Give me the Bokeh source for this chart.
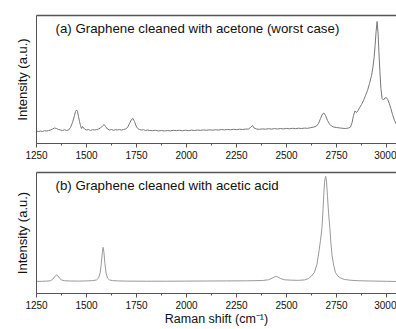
from bokeh.plotting import figure
from bokeh.layouts import column
from bokeh.models import Range1d, LinearAxis, SingleIntervalTicker, FixedTicker, Label
from bokeh.embed import file_html
from bokeh.resources import INLINE

# ---- data ----
x_a = [1250, 1260, 1270, 1280, 1290, 1300, 1310, 1320, 1330, 1340, 1350, 1360, 1370, 1380, 1390,
       1400, 1410, 1420, 1430, 1440, 1445, 1450, 1455, 1460, 1465, 1470, 1475, 1480, 1490,
       1500, 1510, 1520, 1530, 1540, 1550, 1560, 1570, 1580, 1588, 1595, 1605, 1615, 1625,
       1635, 1645, 1655, 1665, 1675, 1685, 1695, 1705, 1715, 1725, 1732, 1740, 1748, 1756,
       1765, 1775, 1785, 1795, 1805, 1815, 1830, 1845, 1860, 1875, 1890, 1905, 1920, 1935,
       1950, 1965, 1980, 1995, 2010, 2025, 2040, 2055, 2070, 2085, 2100, 2115, 2130, 2145,
       2160, 2175, 2190, 2205, 2220, 2235, 2250, 2265, 2280, 2295, 2310, 2320, 2330, 2338,
       2350, 2365, 2380, 2395, 2410, 2425, 2440, 2455, 2470, 2485, 2500, 2515, 2530, 2545,
       2560, 2575, 2590, 2605, 2620, 2635, 2650, 2660, 2670, 2680, 2687, 2695, 2705, 2715,
       2725, 2735, 2750, 2765, 2780, 2795, 2810, 2820, 2828, 2835, 2842, 2850, 2858, 2866,
       2875, 2885, 2895, 2905, 2915, 2925, 2932, 2938, 2943, 2948, 2953, 2958, 2962, 2967,
       2972, 2978, 2985, 2992, 2999, 3006, 3014, 3022, 3030, 3040, 3050]
y_a = [12.5, 12.0, 12.5, 12.0, 12.8, 12.5, 13.0, 13.5, 14.5, 15.5, 15.0, 14.0, 13.5, 13.0, 13.8,
       13.0, 13.5, 16.0, 21.0, 28.0, 32.0, 33.5, 32.0, 27.0, 22.0, 18.0, 15.0, 17.0, 14.5,
       13.5, 14.0, 13.0, 13.8, 13.5, 14.0, 14.5, 15.5, 17.5, 19.0, 17.0, 14.5, 13.5, 14.0,
       13.2, 13.8, 13.5, 14.0, 13.5, 14.0, 14.5, 16.0, 20.0, 24.0, 25.0, 22.0, 17.5, 15.0,
       14.0, 13.5, 13.8, 13.0, 13.5, 13.0, 12.8, 13.2, 12.6, 13.0, 12.5, 13.0, 12.6, 13.2,
       12.8, 13.2, 12.7, 13.3, 12.8, 13.4, 13.0, 13.5, 13.1, 13.6, 13.2, 13.7, 13.3, 13.8,
       13.4, 14.0, 13.6, 14.1, 13.7, 14.2, 13.8, 14.3, 14.0, 14.4, 14.5, 16.0, 18.0, 15.5,
       14.5, 14.2, 14.6, 14.3, 14.8, 14.4, 14.9, 14.5, 15.0, 14.6, 15.1, 14.7, 15.2, 14.8,
       15.3, 15.0, 15.4, 15.2, 15.8, 16.3, 17.5, 20.0, 25.0, 29.5, 30.5, 28.0, 23.0, 19.5,
       17.5, 16.5, 16.0, 15.6, 15.2, 15.0, 15.5, 16.5, 21.0, 28.0, 32.5, 31.0, 33.0, 36.0,
       39.0, 43.0, 48.0, 53.0, 60.0, 68.0, 76.0, 86.0, 98.0, 112.0, 122.0, 110.0, 92.0, 72.0,
       55.0, 45.0, 43.5, 45.5, 46.0, 44.0, 40.0, 35.0, 29.0, 23.0, 19.0]

x_b = [1250, 1280, 1300, 1320, 1330, 1340, 1350, 1358, 1366, 1375, 1390, 1420, 1460, 1500,
       1530, 1550, 1560, 1568, 1574, 1579, 1583, 1587, 1592, 1598, 1605, 1615, 1630, 1660,
       1700, 1800, 1900, 2000, 2100, 2200, 2300, 2380, 2410, 2430, 2445, 2455, 2470, 2490,
       2520, 2560, 2590, 2610, 2625, 2640, 2652, 2662, 2670, 2677, 2683, 2688, 2692, 2696,
       2700, 2705, 2710, 2717, 2722, 2728, 2736, 2745, 2757, 2770, 2790, 2820, 2860, 2920,
       3000, 3050]
y_b = [12.5, 12.6, 12.8, 13.2, 14.5, 17.0, 19.3, 18.0, 15.5, 14.0, 13.2, 12.9, 12.8, 13.0,
       13.3, 14.0, 16.0, 21.0, 31.0, 42.0, 47.7, 43.0, 31.0, 21.0, 16.0, 14.0, 13.3, 13.0,
       12.8, 12.7, 12.7, 12.8, 12.9, 13.0, 13.1, 13.4, 14.2, 16.0, 17.7, 17.3, 15.5, 14.2,
       13.8, 13.6, 14.0, 15.5, 18.0, 22.0, 30.0, 43.0, 55.0, 67.0, 88.0, 108.0, 118.0, 121.0,
       116.0, 100.0, 84.0, 67.0, 52.0, 39.0, 29.0, 21.5, 18.0, 16.0, 14.5, 13.7, 13.2, 12.9,
       12.6, 12.4]

x_ticks_interval = 250
title_a = "(a) Graphene cleaned with acetone (worst case)"
title_b = "(b) Graphene cleaned with acetic acid"
y_label = "Intensity (a.u.)"
x_label = "Raman shift (cm\u207b\u00b9)"

FONT = "Liberation Sans"
FRAME = "#555555"


def make_panel(xs, ys, title, ymax, height, top, bottom, color, show_xlabel):
    p = figure(width=396, height=height, output_backend="svg", toolbar_location=None,
               x_range=Range1d(1250, 3050), y_range=Range1d(0, ymax),
               x_axis_location=None, y_axis_location=None,
               min_border_left=36, min_border_right=0,
               min_border_top=top, min_border_bottom=bottom)
    p.outline_line_color = None
    p.grid.visible = False
    p.background_fill_color = "white"
    p.border_fill_color = "white"

    xa = LinearAxis(ticker=SingleIntervalTicker(interval=x_ticks_interval, num_minor_ticks=2))
    xa.axis_line_color = FRAME
    xa.major_tick_line_color = FRAME
    xa.minor_tick_line_color = FRAME
    xa.major_tick_in = 0
    xa.major_tick_out = 4
    xa.minor_tick_in = 0
    xa.minor_tick_out = 2
    xa.major_label_standoff = 3
    xa.major_label_text_font = FONT
    xa.major_label_text_font_size = "10px"
    xa.major_label_text_color = "#111111"
    if show_xlabel:
        xa.axis_label = x_label
        xa.axis_label_text_font = FONT
        xa.axis_label_text_font_size = "12.5px"
        xa.axis_label_text_font_style = "normal"
        xa.axis_label_text_color = "#111111"
        xa.axis_label_standoff = 0
    p.add_layout(xa, "below")

    ya = LinearAxis(ticker=FixedTicker(ticks=[]))
    ya.axis_line_color = FRAME
    ya.major_tick_line_color = None
    ya.minor_tick_line_color = None
    ya.axis_label = y_label
    ya.axis_label_text_font = FONT
    ya.axis_label_text_font_size = "13px"
    ya.axis_label_text_font_style = "normal"
    ya.axis_label_text_color = "#111111"
    ya.axis_label_standoff = 7
    p.add_layout(ya, "left")

    ta = LinearAxis(ticker=FixedTicker(ticks=[]))
    ta.axis_line_color = FRAME
    ta.axis_line_width = 1.3
    ta.major_tick_line_color = None
    ta.minor_tick_line_color = None
    ta.major_label_text_font_size = "0px"
    p.add_layout(ta, "above")

    p.line(xs, ys, line_color=color, line_width=1)

    p.add_layout(Label(x=1345, y=ymax - 13, text=title, text_font=FONT,
                       text_font_size="13.3px", text_color="#111111",
                       text_baseline="middle", text_align="left"))
    return p


pa = make_panel(x_a, y_a, title_a, 128, 164, 15, 21, "#777777", False)
pb = make_panel(x_b, y_b, title_b, 125, 164, 8, 31, "#999999", True)

layout = column(pa, pb, spacing=0)
open("out.html", "w").write(file_html(layout, INLINE))
